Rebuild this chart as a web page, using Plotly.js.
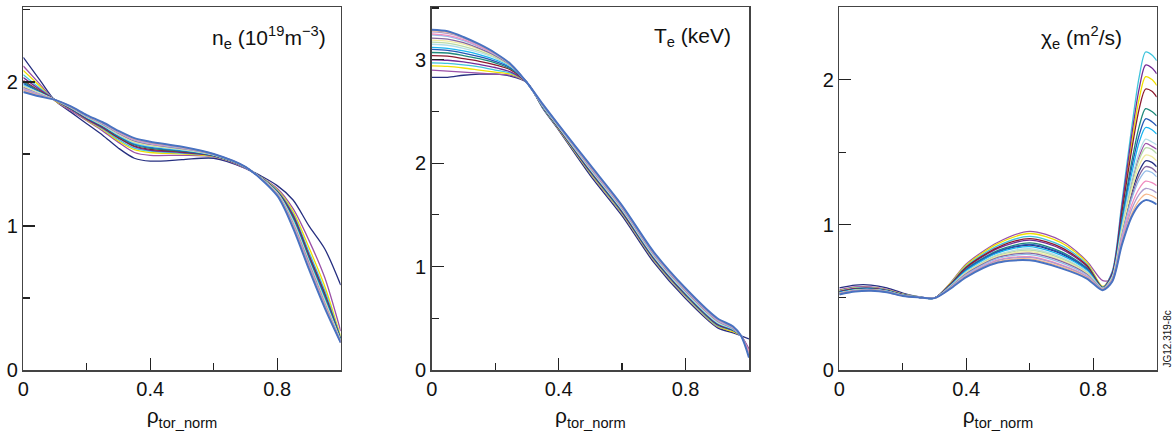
<!DOCTYPE html>
<html>
<head>
<meta charset="utf-8">
<script src="https://cdn.plot.ly/plotly-3.0.1.min.js"></script>
<style>html,body{margin:0;padding:0;background:#fff}#chart{width:1175px;height:433px}</style>
</head>
<body>
<div id="chart"></div>
<script>
// ---------- radial grids ----------
const rhoNe  = [0, 0.05, 0.1, 0.15, 0.2, 0.25, 0.3, 0.35, 0.4, 0.5, 0.6, 0.7, 0.8, 0.85, 0.9, 0.95, 1.0];
const rhoTe  = [0, 0.05, 0.1, 0.15, 0.2, 0.25, 0.3, 0.35, 0.4, 0.5, 0.6, 0.7, 0.8, 0.9, 0.95, 0.975, 1.0];
const rhoChi = [0, 0.05, 0.1, 0.15, 0.2, 0.25, 0.3, 0.35, 0.4, 0.5, 0.6, 0.7, 0.78, 0.83, 0.86, 0.89, 0.92, 0.945, 0.965, 0.985, 1.0];

// ---------- n_e (1e19 m^-3) ----------
const neNavy    = [2.17, 2.02, 1.87, 1.79, 1.71, 1.63, 1.54, 1.47, 1.45, 1.46, 1.47, 1.40, 1.28, 1.18, 1.00, 0.84, 0.59];
const nePurple  = [2.11, 1.99, 1.87, 1.80, 1.73, 1.66, 1.58, 1.51, 1.49, 1.49, 1.48, 1.40, 1.26, 1.12, 0.90, 0.64, 0.27];
const neYellow  = [2.08, 1.975, 1.87, 1.81, 1.735, 1.67, 1.59, 1.53, 1.51, 1.50, 1.483, 1.404, 1.25, 1.10, 0.85, 0.58, 0.23];
const neCyan    = [2.05, 1.96, 1.875, 1.81, 1.74, 1.675, 1.60, 1.54, 1.52, 1.505, 1.485, 1.405, 1.245, 1.085, 0.82, 0.55, 0.22];
const neDPurple = [2.03, 1.95, 1.875, 1.81, 1.74, 1.68, 1.61, 1.55, 1.525, 1.51, 1.487, 1.406, 1.24, 1.075, 0.80, 0.53, 0.215];
const neMaroon  = [2.01, 1.94, 1.875, 1.814, 1.747, 1.685, 1.613, 1.555, 1.532, 1.515, 1.488, 1.406, 1.238, 1.065, 0.79, 0.52, 0.21];
const neTeal    = [2.00, 1.935, 1.875, 1.816, 1.75, 1.69, 1.619, 1.562, 1.539, 1.519, 1.49, 1.407, 1.235, 1.056, 0.78, 0.51, 0.21];
const neBlue    = [1.99, 1.93, 1.875, 1.818, 1.752, 1.693, 1.624, 1.568, 1.545, 1.523, 1.491, 1.407, 1.233, 1.048, 0.77, 0.50, 0.205];
const neSky     = [1.98, 1.925, 1.875, 1.82, 1.754, 1.697, 1.629, 1.574, 1.55, 1.527, 1.492, 1.407, 1.231, 1.04, 0.76, 0.49, 0.205];
const neLCyan   = [1.975, 1.925, 1.875, 1.821, 1.756, 1.699, 1.632, 1.578, 1.554, 1.529, 1.493, 1.408, 1.229, 1.034, 0.755, 0.48, 0.20];
const nePGreen  = [1.97, 1.92, 1.875, 1.822, 1.758, 1.702, 1.636, 1.582, 1.558, 1.532, 1.494, 1.408, 1.227, 1.028, 0.75, 0.475, 0.20];
const neLYellow = [1.965, 1.92, 1.875, 1.823, 1.76, 1.705, 1.64, 1.586, 1.562, 1.535, 1.495, 1.408, 1.225, 1.022, 0.745, 0.47, 0.20];
const neViolet  = [1.96, 1.915, 1.875, 1.824, 1.762, 1.707, 1.643, 1.59, 1.566, 1.537, 1.496, 1.409, 1.223, 1.016, 0.74, 0.46, 0.195];
const neLBlue   = [1.955, 1.915, 1.875, 1.826, 1.763, 1.71, 1.647, 1.595, 1.57, 1.54, 1.497, 1.409, 1.221, 1.01, 0.73, 0.455, 0.195];
const nePink    = [1.95, 1.91, 1.875, 1.827, 1.765, 1.713, 1.65, 1.599, 1.574, 1.543, 1.498, 1.409, 1.219, 1.004, 0.725, 0.45, 0.195];
const neMauve   = [1.945, 1.91, 1.875, 1.828, 1.766, 1.715, 1.653, 1.602, 1.577, 1.545, 1.498, 1.409, 1.217, 0.999, 0.72, 0.445, 0.19];
const nePeach   = [1.94, 1.905, 1.875, 1.829, 1.768, 1.717, 1.656, 1.606, 1.581, 1.547, 1.499, 1.41, 1.215, 0.993, 0.71, 0.44, 0.19];
const neSteel   = [1.93, 1.90, 1.875, 1.83, 1.77, 1.72, 1.66, 1.61, 1.585, 1.55, 1.50, 1.41, 1.21, 0.985, 0.70, 0.43, 0.19];

// ---------- T_e (keV) ----------
const teNavy    = [2.83, 2.83, 2.85, 2.86, 2.86, 2.84, 2.78, 2.53, 2.32, 1.88, 1.49, 1.04, 0.69, 0.41, 0.36, 0.33, 0.30];
const tePurple  = [2.90, 2.89, 2.88, 2.87, 2.86, 2.85, 2.78, 2.54, 2.33, 1.90, 1.51, 1.06, 0.71, 0.42, 0.37, 0.33, 0.20];
const teYellow  = [2.94, 2.935, 2.92, 2.90, 2.88, 2.86, 2.78, 2.54, 2.33, 1.905, 1.515, 1.065, 0.715, 0.425, 0.37, 0.33, 0.16];
const teCyan    = [2.97, 2.965, 2.95, 2.93, 2.90, 2.87, 2.78, 2.54, 2.335, 1.91, 1.52, 1.07, 0.72, 0.43, 0.38, 0.33, 0.15];
const teDPurple = [3.00, 2.995, 2.98, 2.955, 2.925, 2.88, 2.78, 2.545, 2.34, 1.92, 1.53, 1.08, 0.73, 0.44, 0.385, 0.33, 0.15];
const teMaroon  = [3.04, 3.035, 3.01, 2.985, 2.95, 2.90, 2.78, 2.545, 2.34, 1.92, 1.53, 1.08, 0.73, 0.44, 0.385, 0.33, 0.15];
const teTeal    = [3.07, 3.065, 3.04, 3.01, 2.97, 2.91, 2.78, 2.55, 2.345, 1.93, 1.54, 1.09, 0.74, 0.45, 0.39, 0.33, 0.15];
const teBlue    = [3.10, 3.09, 3.065, 3.03, 2.985, 2.92, 2.78, 2.55, 2.345, 1.93, 1.54, 1.09, 0.74, 0.45, 0.39, 0.33, 0.145];
const teSky     = [3.12, 3.11, 3.085, 3.05, 3.00, 2.93, 2.78, 2.55, 2.35, 1.94, 1.55, 1.10, 0.75, 0.46, 0.39, 0.33, 0.145];
const teLCyan   = [3.15, 3.14, 3.11, 3.07, 3.015, 2.935, 2.78, 2.555, 2.35, 1.94, 1.55, 1.10, 0.75, 0.46, 0.395, 0.33, 0.14];
const tePGreen  = [3.17, 3.16, 3.13, 3.085, 3.025, 2.94, 2.78, 2.555, 2.355, 1.95, 1.56, 1.11, 0.76, 0.47, 0.40, 0.33, 0.14];
const teLYellow = [3.19, 3.18, 3.15, 3.10, 3.035, 2.945, 2.78, 2.56, 2.355, 1.95, 1.56, 1.11, 0.76, 0.47, 0.40, 0.33, 0.14];
const teViolet  = [3.21, 3.20, 3.165, 3.11, 3.04, 2.945, 2.78, 2.56, 2.36, 1.955, 1.565, 1.115, 0.765, 0.475, 0.40, 0.33, 0.20];
const teLBlue   = [3.24, 3.225, 3.185, 3.125, 3.05, 2.95, 2.78, 2.56, 2.36, 1.96, 1.57, 1.12, 0.77, 0.48, 0.405, 0.33, 0.14];
const tePink    = [3.25, 3.235, 3.195, 3.13, 3.055, 2.95, 2.78, 2.565, 2.365, 1.965, 1.575, 1.125, 0.775, 0.485, 0.41, 0.33, 0.18];
const teMauve   = [3.27, 3.255, 3.21, 3.14, 3.06, 2.95, 2.78, 2.565, 2.365, 1.97, 1.58, 1.13, 0.78, 0.49, 0.41, 0.33, 0.15];
const tePeach   = [3.28, 3.265, 3.215, 3.145, 3.06, 2.95, 2.78, 2.57, 2.37, 1.975, 1.585, 1.135, 0.785, 0.495, 0.415, 0.33, 0.14];
const teSteel   = [3.29, 3.275, 3.22, 3.15, 3.065, 2.955, 2.78, 2.57, 2.37, 1.98, 1.59, 1.14, 0.79, 0.50, 0.42, 0.33, 0.12];

// ---------- chi_e (m^2/s) ----------
const chiNavy    = [0.565, 0.585, 0.585, 0.565, 0.53, 0.505, 0.495, 0.58, 0.687, 0.814, 0.86, 0.80, 0.693, 0.565, 0.63, 0.94, 1.21, 1.37, 1.44, 1.43, 1.40];
const chiPurple  = [0.552, 0.572, 0.573, 0.556, 0.524, 0.504, 0.495, 0.60, 0.73, 0.88, 0.955, 0.89, 0.75, 0.615, 0.63, 0.97, 1.28, 1.47, 1.56, 1.54, 1.52];
const chiYellow  = [0.546, 0.566, 0.568, 0.552, 0.522, 0.503, 0.495, 0.597, 0.723, 0.87, 0.94, 0.876, 0.741, 0.575, 0.67, 1.10, 1.55, 1.87, 2.02, 2.00, 1.96];
const chiCyan    = [0.543, 0.563, 0.565, 0.55, 0.52, 0.503, 0.495, 0.593, 0.714, 0.856, 0.92, 0.857, 0.729, 0.57, 0.68, 1.15, 1.65, 2.02, 2.19, 2.17, 2.13];
const chiDPurple = [0.54, 0.56, 0.563, 0.548, 0.519, 0.502, 0.495, 0.588, 0.703, 0.838, 0.895, 0.833, 0.714, 0.568, 0.67, 1.12, 1.60, 1.94, 2.10, 2.08, 2.04];
const chiMaroon  = [0.538, 0.558, 0.561, 0.547, 0.518, 0.502, 0.495, 0.59, 0.708, 0.845, 0.905, 0.843, 0.72, 0.568, 0.66, 1.08, 1.50, 1.80, 1.935, 1.92, 1.88];
const chiTeal    = [0.535, 0.555, 0.559, 0.545, 0.517, 0.502, 0.495, 0.584, 0.694, 0.824, 0.875, 0.814, 0.702, 0.565, 0.65, 1.04, 1.42, 1.68, 1.80, 1.78, 1.75];
const chiBlue    = [0.534, 0.554, 0.557, 0.544, 0.516, 0.502, 0.495, 0.582, 0.69, 0.817, 0.865, 0.805, 0.696, 0.564, 0.65, 1.02, 1.38, 1.62, 1.73, 1.71, 1.68];
const chiSky     = [0.532, 0.552, 0.555, 0.543, 0.515, 0.501, 0.495, 0.579, 0.683, 0.807, 0.85, 0.79, 0.687, 0.563, 0.64, 1.00, 1.34, 1.57, 1.67, 1.655, 1.625];
const chiLCyan   = [0.53, 0.55, 0.554, 0.542, 0.515, 0.501, 0.495, 0.576, 0.676, 0.796, 0.835, 0.776, 0.678, 0.562, 0.64, 0.98, 1.30, 1.50, 1.59, 1.57, 1.55];
const chiPGreen  = [0.529, 0.549, 0.553, 0.541, 0.514, 0.501, 0.495, 0.574, 0.672, 0.789, 0.825, 0.767, 0.672, 0.561, 0.635, 0.96, 1.26, 1.45, 1.53, 1.52, 1.49];
const chiLYellow = [0.528, 0.548, 0.552, 0.54, 0.513, 0.501, 0.495, 0.572, 0.667, 0.782, 0.815, 0.757, 0.666, 0.56, 0.63, 0.95, 1.23, 1.41, 1.48, 1.47, 1.44];
const chiViolet  = [0.526, 0.546, 0.551, 0.539, 0.513, 0.501, 0.495, 0.57, 0.663, 0.775, 0.805, 0.748, 0.66, 0.559, 0.625, 0.925, 1.185, 1.34, 1.40, 1.39, 1.36];
const chiLBlue   = [0.525, 0.545, 0.549, 0.538, 0.512, 0.50, 0.495, 0.568, 0.658, 0.768, 0.795, 0.738, 0.654, 0.558, 0.62, 0.92, 1.17, 1.31, 1.37, 1.36, 1.33];
const chiPink    = [0.524, 0.544, 0.548, 0.537, 0.512, 0.50, 0.495, 0.565, 0.651, 0.758, 0.78, 0.724, 0.645, 0.557, 0.62, 0.90, 1.13, 1.25, 1.30, 1.29, 1.27];
const chiMauve   = [0.523, 0.543, 0.547, 0.537, 0.511, 0.50, 0.495, 0.564, 0.649, 0.754, 0.775, 0.719, 0.642, 0.556, 0.615, 0.88, 1.10, 1.21, 1.25, 1.24, 1.22];
const chiPeach   = [0.521, 0.541, 0.546, 0.536, 0.51, 0.50, 0.495, 0.562, 0.645, 0.747, 0.765, 0.71, 0.636, 0.555, 0.61, 0.87, 1.07, 1.17, 1.21, 1.20, 1.18];
const chiSteel   = [0.52, 0.54, 0.545, 0.535, 0.51, 0.50, 0.495, 0.56, 0.64, 0.74, 0.755, 0.70, 0.63, 0.55, 0.61, 0.86, 1.05, 1.14, 1.17, 1.16, 1.14];

// ---------- labels ----------
const xTickVals = [0, 0.4, 0.8];
const xTickText = ['0', '0.4', '0.8'];
const xTitle = 'ρ<sub>tor_norm</sub>';
const panelTitles = ['n<sub>e</sub> (10<sup>19</sup>m<sup>−3</sup>)', 'T<sub>e</sub> (keV)', 'χ<sub>e</sub> (m<sup>2</sup>/s)'];
const stamp = 'JG12.319-8c';

// ---------- styling ----------
const colors = ['#262f80', '#9b52a8', '#f0e000', '#3fc4dc', '#742c96', '#8c1a2e', '#1e8a7a', '#2456b4', '#19b5ef',
                '#b2dde8', '#b9dba9', '#f1eba0', '#86679f', '#94bde9', '#f08cbf', '#ae9ccd', '#f7b98c', '#4872c2'];

const neSet  = [neNavy, nePurple, neYellow, neCyan, neDPurple, neMaroon, neTeal, neBlue, neSky, neLCyan, nePGreen, neLYellow, neViolet, neLBlue, nePink, neMauve, nePeach, neSteel];
const teSet  = [teNavy, tePurple, teYellow, teCyan, teDPurple, teMaroon, teTeal, teBlue, teSky, teLCyan, tePGreen, teLYellow, teViolet, teLBlue, tePink, teMauve, tePeach, teSteel];
const chiSet = [chiNavy, chiPurple, chiYellow, chiCyan, chiDPurple, chiMaroon, chiTeal, chiBlue, chiSky, chiLCyan, chiPGreen, chiLYellow, chiViolet, chiLBlue, chiPink, chiMauve, chiPeach, chiSteel];

const FONT = 'Arial, "Liberation Sans", Helvetica, sans-serif';
const traces = [];
function addPanel(rho, set, xa, ya) {
  set.forEach((ys, i) => {
    const last = i === set.length - 1;
    traces.push({
      x: rho, y: ys, xaxis: xa, yaxis: ya, type: 'scatter', mode: 'lines',
      line: {color: colors[i], width: last ? 2 : 1.3, shape: 'spline', smoothing: 0.8},
      hoverinfo: 'skip', showlegend: false
    });
  });
}
addPanel(rhoNe, neSet, 'x', 'y');
addPanel(rhoTe, teSet, 'x2', 'y2');
addPanel(rhoChi, chiSet, 'x3', 'y3');

const W = 1175, H = 433;
const plotTop = 7, plotBottom = 370;
const yDom = [(H - plotBottom) / H, (H - plotTop) / H];
const xDoms = [[23.3 / W, 340.7 / W], [431.7 / W, 749 / W], [839.3 / W, 1156.7 / W]];

function xAxis(dom, anchor) {
  return {
    domain: dom, anchor: anchor, range: [0, 1], tickvals: xTickVals, ticktext: xTickText,
    ticks: 'inside', ticklen: 12, tickwidth: 1.2, tickcolor: '#222',
    minor: {ticks: 'inside', ticklen: 7, tickvals: [0.2, 0.6], tickcolor: '#222', tickwidth: 1.2, showgrid: false},
    showline: true, mirror: true, linecolor: '#444', linewidth: 1.5,
    showgrid: false, zeroline: false,
    tickfont: {family: FONT, size: 20, color: '#111'},
    title: {text: xTitle, font: {family: FONT, size: 21, color: '#111'}, standoff: 10}
  };
}
function yAxis(dom, anchor, top) {
  return {
    domain: dom, anchor: anchor, range: [0, top], tick0: 0, dtick: 1,
    ticks: 'inside', ticklen: 12, tickwidth: 1.2, tickcolor: '#222',
    minor: {ticks: 'inside', ticklen: 7, dtick: 0.5, tickcolor: '#222', tickwidth: 1.2, showgrid: false},
    showline: true, mirror: true, linecolor: '#444', linewidth: 1.5,
    showgrid: false, zeroline: false,
    tickfont: {family: FONT, size: 20, color: '#111'}
  };
}

const layout = {
  width: W, height: H, margin: {l: 0, r: 0, t: 0, b: 0},
  paper_bgcolor: '#fff', plot_bgcolor: '#fff',
  font: {family: FONT, color: '#111'},
  xaxis: xAxis(xDoms[0], 'y'),
  yaxis: yAxis(yDom, 'x', 2.52),
  xaxis2: xAxis(xDoms[1], 'y2'),
  yaxis2: yAxis(yDom, 'x2', 3.51),
  xaxis3: xAxis(xDoms[2], 'y3'),
  yaxis3: yAxis(yDom, 'x3', 2.5),
  annotations: [
    {text: panelTitles[0], xref: 'paper', yref: 'paper', x: 328 / W, y: (H - 37) / H, xanchor: 'right', yanchor: 'middle', showarrow: false, font: {family: FONT, size: 21, color: '#111'}},
    {text: panelTitles[1], xref: 'paper', yref: 'paper', x: 733 / W, y: (H - 37) / H, xanchor: 'right', yanchor: 'middle', showarrow: false, font: {family: FONT, size: 21, color: '#111'}},
    {text: panelTitles[2], xref: 'paper', yref: 'paper', x: 1124 / W, y: (H - 37) / H, xanchor: 'right', yanchor: 'middle', showarrow: false, font: {family: FONT, size: 21, color: '#111'}},
    {text: stamp, xref: 'paper', yref: 'paper', x: 1167 / W, y: (H - 370) / H, xanchor: 'center', yanchor: 'bottom', textangle: -90, showarrow: false, font: {family: FONT, size: 10, color: '#111'}}
  ]
};

Plotly.newPlot('chart', traces, layout, {staticPlot: true, displayModeBar: false});
</script>
</body>
</html>
